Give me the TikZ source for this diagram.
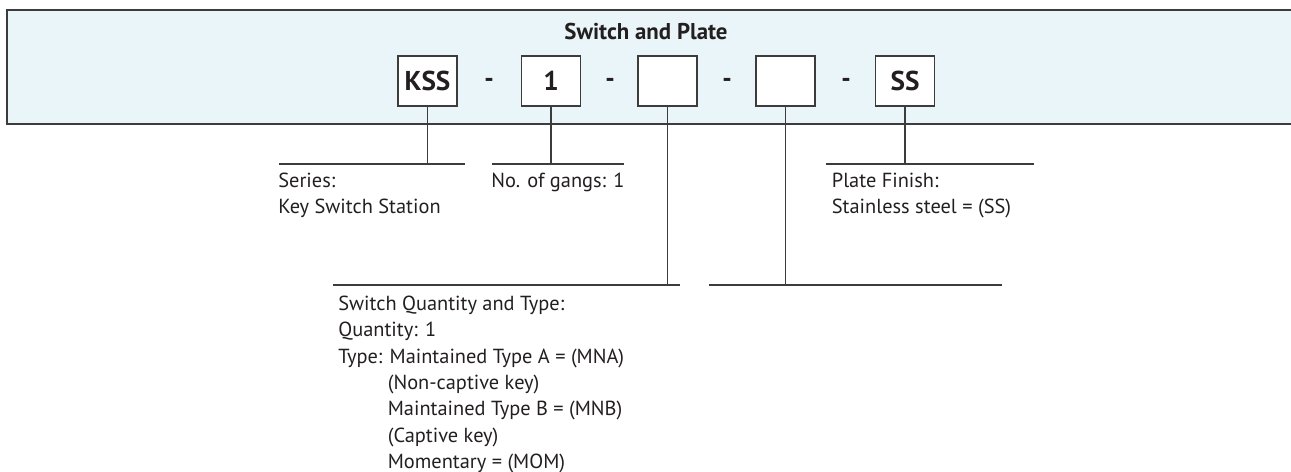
\documentclass[tikz,border=0pt]{standalone}
\usepackage{fontspec}
\setmainfont{PT Sans}
\usepackage{xcolor}
\usepackage{tikz}

\definecolor{bannerfill}{HTML}{E9F5F8}
\definecolor{inkgray}{HTML}{231F20}
\definecolor{rulegray}{HTML}{3C3C3C}

\newcommand{\typeindent}{\hphantom{Type:\ }}

\tikzset{
  codebox/.style={draw=rulegray, fill=white, line width=0.7pt, minimum width=59*0.02cm, minimum height=50*0.02cm, inner sep=0pt, font=\fontsize{15.5}{18}\selectfont\bfseries, text=inkgray},
  dashmark/.style={inner sep=0pt, font=\fontsize{15}{18}\selectfont\bfseries, text=inkgray},
  note/.style={anchor=north west, inner sep=0pt, align=left, font=\fontsize{11.6}{15}\selectfont, text=inkgray},
  leader/.style={draw=rulegray, line width=0.7pt}
}

\begin{document}
\begin{tikzpicture}[x=0.02cm, y=-0.02cm]
                            \useasboundingbox (0,0) rectangle (1291,472);
                            % Banner
                            \fill[bannerfill] (7,10) rectangle (1291,124);
                            \draw[leader] (1291,10) -- (7,10) -- (7,124) -- (1291,124);
                            \node[anchor=base, inner sep=0pt, font=\fontsize{13}{16}\selectfont\bfseries, text=inkgray] (title) at (646,40) {Switch and Plate};

                            % Code boxes
                            \node[codebox] (kss) at (427.5,81) {KSS};
                            \node[codebox] (gangs) at (551,81) {1};
                            \node[codebox] (swtype) at (667.5,81) {};
                            \node[codebox] (blank) at (785.5,81) {};
                            \node[codebox] (plate) at (905,81) {SS};

                            % Separators
                            \node[dashmark] (d1) at (489,83) {-};
                            \node[dashmark] (d2) at (610,83) {-};
                            \node[dashmark] (d3) at (727,83) {-};
                            \node[dashmark] (d4) at (846,83) {-};

                            % Series
                            \coordinate (serL) at (279,164);
                            \coordinate (serR) at (465,164);
                            \draw[leader] (serL) -- (serR);
                            \draw[leader] (kss.south) -- (kss.south |- serL);
                            \node[note] (serText) at (278,172.5) {Series:\\Key Switch Station};

                            % No. of gangs
                            \coordinate (gangL) at (492,164);
                            \coordinate (gangR) at (624,164);
                            \draw[leader] (gangL) -- (gangR);
                            \draw[leader] (gangs.south) -- (gangs.south |- gangL);
                            \node[note] (gangText) at (491,172.5) {No. of gangs: 1};

                            % Plate finish
                            \coordinate (finL) at (826,164);
                            \coordinate (finR) at (1034,164);
                            \draw[leader] (finL) -- (finR);
                            \draw[leader] (plate.south) -- (plate.south |- finL);
                            \node[note] (finText) at (831.5,172.5) {Plate Finish:\\Stainless steel = (SS)};

                            % Switch quantity and type
                            \coordinate (typL) at (333,285);
                            \coordinate (typR) at (680,285);
                            \draw[leader] (typL) -- (typR);
                            \draw[leader] (swtype.south) -- (swtype.south |- typL);
                            \node[note] (typText) at (338,295.5) {Switch Quantity and Type:\\Quantity: 1\\Type: Maintained Type A = (MNA)\\\typeindent(Non-captive key)\\\typeindent Maintained Type B = (MNB)\\\typeindent(Captive key)\\\typeindent Momentary = (MOM)};

                            % Fourth position
                            \coordinate (blkL) at (709,285);
                            \coordinate (blkR) at (1002,285);
                            \draw[leader] (blkL) -- (blkR);
                            \draw[leader] (blank.south) -- (blank.south |- blkL);
                        \end{tikzpicture}
\end{document}
